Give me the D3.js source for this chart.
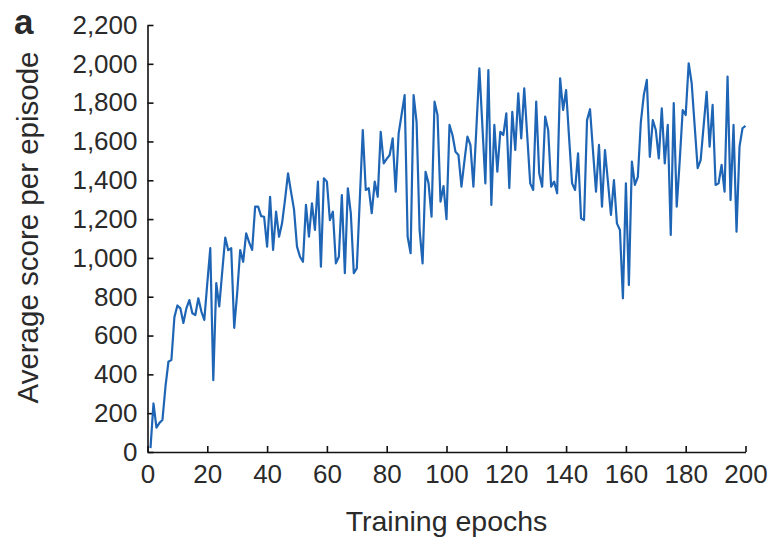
<!DOCTYPE html>
<html>
<head>
<meta charset="utf-8">
<script src="https://cdn.jsdelivr.net/npm/d3@7"></script>
<style>
  html, body { margin: 0; padding: 0; background: #fff; }
  svg { display: block; }
  text { font-family: "Liberation Sans", Arial, Helvetica, sans-serif; fill: #2a2a2a; }
</style>
</head>
<body>
<svg id="chart" width="779" height="540"></svg>
<script>
// Epochs 1..200
const epochs = d3.range(1, 201);
const scores = [
  20, 250, 125, 150, 165, 335, 465, 475, 695, 755,
  740, 665, 740, 783, 715, 706, 792, 725, 680, 870,
  1050, 370, 870, 750, 930, 1105, 1040, 1050, 640, 820,
  1040, 980, 1127, 1080, 1041, 1264, 1264, 1215, 1212, 1058,
  1315, 1041, 1238, 1109, 1178, 1300, 1436, 1340, 1250, 1058,
  1006, 980, 1273, 1109, 1281, 1144, 1393, 955, 1410, 1393,
  1195, 1238, 972, 1006, 1324, 921, 1359, 1230, 921, 946,
  1300, 1659, 1350, 1359, 1230, 1393, 1315, 1650, 1487, 1510,
  1530, 1616, 1341, 1642, 1740, 1839, 1109, 1024, 1839, 1700,
  1144, 972, 1444, 1384, 1212, 1805, 1736, 1290, 1370, 1200,
  1685, 1633, 1547, 1530, 1367, 1500, 1625, 1582, 1367, 1670,
  1977, 1680, 1384, 1968, 1273, 1685, 1444, 1650, 1633, 1745,
  1360, 1753, 1556, 1848, 1616, 1874, 1630, 1384, 1350, 1805,
  1436, 1367, 1728, 1659, 1367, 1393, 1333, 1925, 1762, 1865,
  1620, 1384, 1350, 1539, 1204, 1195, 1710, 1766, 1550, 1341,
  1582, 1264, 1556, 1390, 1221, 1401, 1178, 1144, 792, 1384,
  860, 1496, 1376, 1418, 1700, 1840, 1917, 1521, 1710, 1659,
  1513, 1771, 1487, 1685, 1118, 1797, 1264, 1500, 1762, 1736,
  2003, 1900, 1680, 1462, 1504, 1680, 1856, 1573, 1788, 1376,
  1384, 1479, 1341, 1934, 1298, 1685, 1135, 1573, 1668, 1680
];
const xTicks = [0, 20, 40, 60, 80, 100, 120, 140, 160, 180, 200];
const yTicks = [0, 200, 400, 600, 800, 1000, 1200, 1400, 1600, 1800, 2000, 2200];
const xLabel = "Training epochs";
const yLabel = "Average score per episode";
const panelLabel = "a";

const svg = d3.select("#chart");
const x = d3.scaleLinear().domain([0, 200]).range([147.5, 745.5]);
const y = d3.scaleLinear().domain([0, 2200]).range([452, 25]);
const fmt = d3.format(",");

const xAxis = svg.append("g")
  .attr("transform", `translate(0,${y(0)})`)
  .call(d3.axisBottom(x).tickValues(xTicks).tickSize(-6).tickPadding(13).tickSizeOuter(0).tickFormat(d3.format("d")));
const yAxis = svg.append("g")
  .attr("transform", `translate(${x(0)},0)`)
  .call(d3.axisLeft(y).tickValues(yTicks).tickSize(-6).tickPadding(10).tickSizeOuter(0).tickFormat(fmt));

[xAxis, yAxis].forEach(g => {
  g.select(".domain").attr("stroke", "#111").attr("stroke-width", 1.6);
  g.selectAll(".tick line").attr("stroke", "#111").attr("stroke-width", 1.6);
  g.selectAll(".tick text").attr("font-size", 26).attr("fill", "#2a2a2a")
    .attr("font-family", '"Liberation Sans", Arial, Helvetica, sans-serif');
});

const data = epochs.map((e, i) => ({ e, v: scores[i] }));
svg.append("path")
  .datum(data)
  .attr("fill", "none")
  .attr("stroke", "#1f65b5")
  .attr("stroke-width", 2.2)
  .attr("stroke-linejoin", "round")
  .attr("d", d3.line().x(d => x(d.e)).y(d => y(d.v)));

svg.append("text")
  .attr("x", (x(0) + x(200)) / 2)
  .attr("y", 531)
  .attr("text-anchor", "middle")
  .attr("font-size", 28.5)
  .text(xLabel);

svg.append("text")
  .attr("transform", `translate(38,${(y(0) + y(2200)) / 2 - 11}) rotate(-90)`)
  .attr("text-anchor", "middle")
  .attr("font-size", 29.5)
  .text(yLabel);

svg.append("text")
  .attr("x", 14)
  .attr("y", 34)
  .attr("font-size", 35)
  .attr("font-weight", "bold")
  .attr("fill", "#111")
  .text(panelLabel);
</script>
</body>
</html>
